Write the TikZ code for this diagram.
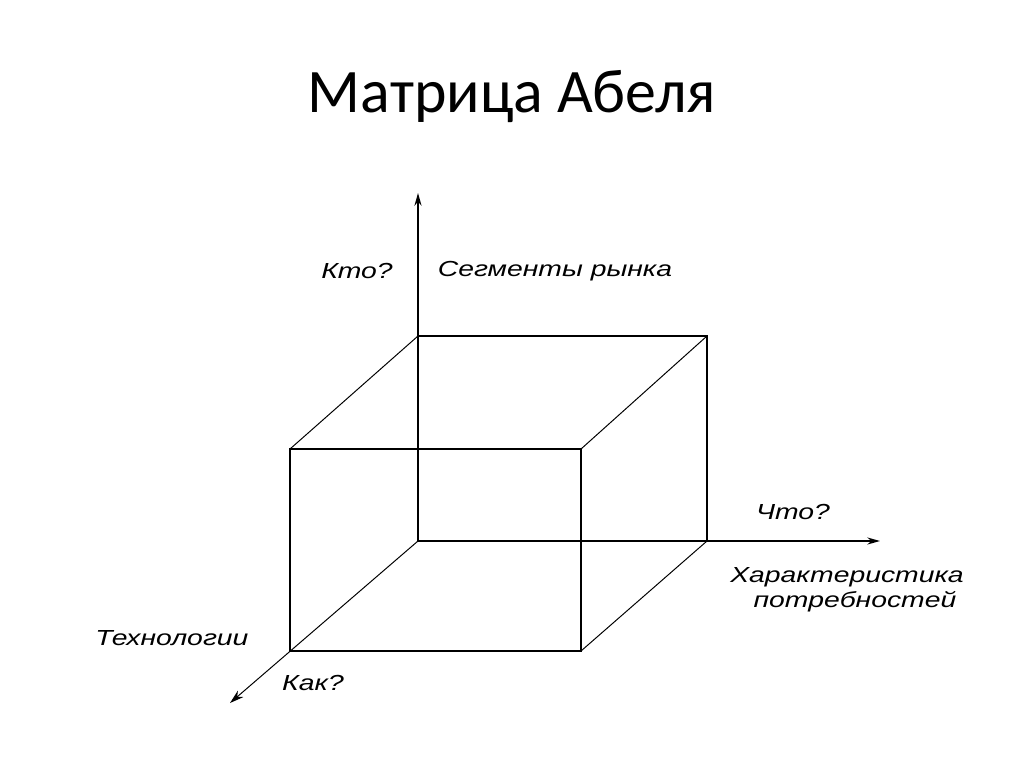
\documentclass[tikz,border=0pt]{standalone}
\usepackage{fontspec}
\usepackage{tikz}
\usetikzlibrary{arrows.meta}
\newfontfamily\titlefont{Carlito}
\newfontfamily\axisfont[FakeStretch=1.3]{Liberation Sans}

\begin{document}
\begin{tikzpicture}[x=0.025cm,y=-0.025cm]
        \tikzstyle{edge}=[black,line width=1.4pt]
        \tikzstyle{depth}=[black,line width=0.7pt]
        \tikzstyle{axis}=[black,line width=1.4pt,-{Stealth[length=9pt,width=5pt]}]
        \tikzstyle{lab}=[font=\axisfont\itshape\fontsize{15.5}{18}\selectfont,inner sep=0pt]
        \useasboundingbox (0,0) rectangle (1024,767);
        \node (title) at (512,97) {\titlefont\fontsize{44}{50}\selectfont Матрица Абеля};
        % back face
        \coordinate (o) at (418,541);
        \coordinate (bt) at (418,336);
        \coordinate (btr) at (707,336);
        \coordinate (br) at (707,541);
        % front face
        \coordinate (ftl) at (290,449);
        \coordinate (ftr) at (581,449);
        \coordinate (fbl) at (290,651);
        \coordinate (fbr) at (581,651);
        % axis ends
        \coordinate (ytip) at (418,193);
        \coordinate (xtip) at (880,541);
        \coordinate (ztip) at (230,703);
        \draw [edge] (bt) -- (btr) -- (br);
        \draw [edge] (ftl) rectangle (fbr);
        \draw [depth] (bt) -- (ftl);
        \draw [depth] (btr) -- (ftr);
        \draw [depth] (br) -- (fbr);
        \draw [axis] (o) -- (ytip);
        \draw [axis] (o) -- (xtip);
        \draw [depth,-{Stealth[length=10pt,width=6pt]}] (o) -- (ztip);
        \node [lab] (who) at (357,271) {Кто?};
        \node [lab] (seg) at (555,271) {Сегменты рынка};
        \node [lab] (what) at (793,512) {Что?};
        \node [lab] (need1) at (847,577) {Характеристика};
        \node [lab] (need2) at (855,602) {потребностей};
        \node [lab] (tech) at (172,638) {Технологии};
        \node [lab] (how) at (313,683) {Как?};
\end{tikzpicture}
\end{document}
